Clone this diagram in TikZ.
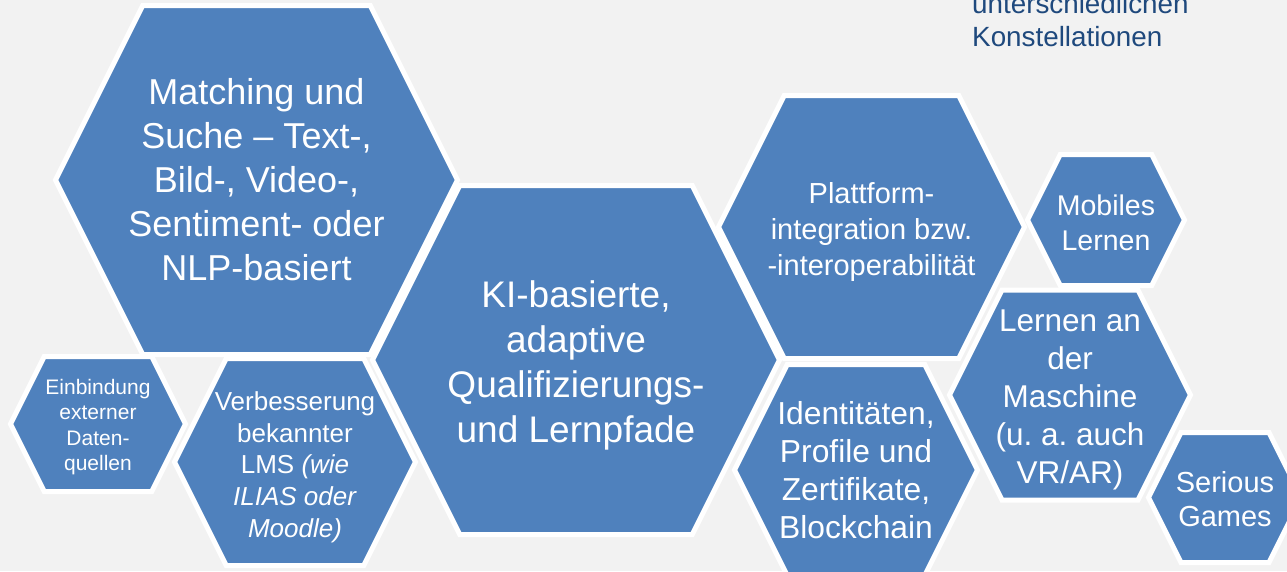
\documentclass[tikz,border=0pt]{standalone}
\usepackage{fontspec}
\setmainfont{Liberation Sans}
\usepackage{tikz}
\frenchspacing

\definecolor{hexblue}{RGB}{79,129,189}
\definecolor{paper}{RGB}{242,242,242}
\definecolor{notetext}{RGB}{31,73,125}

\tikzset{
  hexcell/.style={fill=hexblue, draw=white, line width=5pt, line join=miter},
  hextext/.style={text=white, align=center, inner sep=0pt},
}

% hexagon with its text: [node options] {name} {cx} {cy} {width} {height} {text}
\newcommand{\hexcell}[7][]{%
  \pgfmathsetmacro\hw{#5/2}%
  \pgfmathsetmacro\hh{#6/2}%
  \pgfmathsetmacro\hi{min(#5,#6)/4}%
  \draw[hexcell] (#3-\hw,#4) -- (#3-\hw+\hi,#4-\hh) -- (#3+\hw-\hi,#4-\hh)
    -- (#3+\hw,#4) -- (#3+\hw-\hi,#4+\hh) -- (#3-\hw+\hi,#4+\hh) -- cycle;
  \node[hextext,#1] (#2) at (#3,#4) {#7};%
}

\begin{document}
\begin{tikzpicture}[x=1pt, y=-1pt]
  \useasboundingbox[fill=paper] (0,0) rectangle (1287,571);

  \hexcell[font=\fontsize{36}{44}\selectfont]{matching}{256.5}{180}{402}{349}
    {Matching und\\Suche -- Text-,\\Bild-, Video-,\\Sentiment- oder\\NLP-basiert}
  \hexcell[font=\fontsize{37}{45}\selectfont, yshift=-5pt]{lernpfade}{576}{360}{407}{349}
    {KI-basierte,\\adaptive\\Qualifizierungs-\\und Lernpfade}
  \hexcell[font=\fontsize{29}{36}\selectfont, yshift=-5pt]{plattform}{871.5}{227}{306}{263}
    {Plattform-\\integration bzw.\\-interoperabilität}
  \hexcell[font=\fontsize{28.5}{35}\selectfont, yshift=-3pt]{mobil}{1106}{220}{157}{131}
    {Mobiles\\Lernen}
  \hexcell[font=\fontsize{21}{25.5}\selectfont, yshift=-3pt]{daten}{98}{424}{175}{135}
    {Einbindung\\externer\\Daten-\\quellen}
  \hexcell[font=\fontsize{26}{31.7}\selectfont, yshift=-5pt]{lms}{295}{462}{241}{207}
    {Verbesserung\\bekannter\\LMS \textit{(wie}\\\textit{ILIAS oder}\\\textit{Moodle)}}
  \hexcell[font=\fontsize{31.8}{38}\selectfont]{ident}{856}{470}{243}{211}
    {Identitäten,\\Profile und\\Zertifikate,\\Blockchain}
  \hexcell[font=\fontsize{31.5}{38}\selectfont, yshift=-5pt]{maschine}{1070}{395}{241}{210}
    {Lernen an\\der\\Maschine\\(u. a. auch\\VR/AR)}
  \hexcell[font=\fontsize{29}{34}\selectfont, yshift=-2pt]{games}{1225}{497.5}{153}{130}
    {Serious\\Games}

  % note cut by the upper edge
  \node[anchor=south west, inner sep=0pt, align=left, text=notetext,
        font=\fontsize{27.8}{33}\selectfont] (note) at (972,47)
    {unterschiedlichen\\Konstellationen};
\end{tikzpicture}
\end{document}
